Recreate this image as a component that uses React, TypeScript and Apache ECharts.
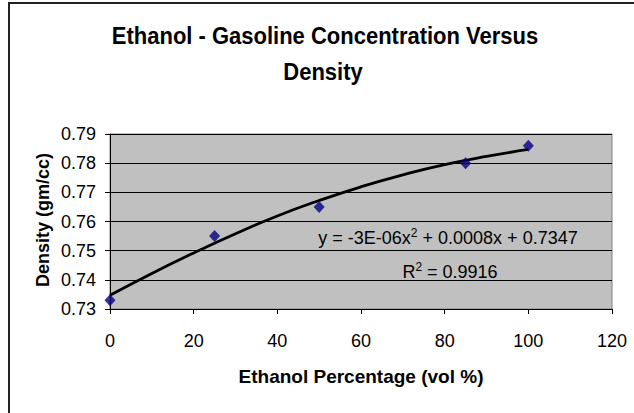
import React, { useEffect, useRef } from "react";
import * as echarts from "echarts";

// Measured data points (Ethanol %, density gm/cc)
const ethanolPct: number[] = [0, 25, 50, 85, 100];
const density: number[] = [0.733, 0.755, 0.765, 0.78, 0.786];

// Trendline (polynomial fit)
const trendX: number[] = [0, 10, 20, 30, 40, 50, 60, 70, 80, 90, 100];
const trendY: number[] = [0.7347, 0.7422, 0.7492, 0.7558, 0.7619, 0.7672, 0.7719, 0.776, 0.7795, 0.7823, 0.7847];

const titleLines: string[] = ["Ethanol - Gasoline Concentration Versus", "Density"];
const xAxisTitle = "Ethanol Percentage (vol %)";
const yAxisTitle = "Density (gm/cc)";
const equationParts: string[] = ["y = -3E-06x", "2", " + 0.0008x + 0.7347"];
const rSquaredParts: string[] = ["R", "2", " = 0.9916"];

const FONT = "'Liberation Sans', Arial, Helvetica, sans-serif";

export default function App() {
  const ref = useRef<HTMLDivElement | null>(null);

  useEffect(() => {
    if (!ref.current) return;
    const chart = echarts.init(ref.current, undefined, { renderer: "svg" });
    const rich = {
      n: { fontSize: 18, fontFamily: FONT, color: "#000", lineHeight: 22 },
      s: { fontSize: 12, fontFamily: FONT, color: "#000", lineHeight: 22, verticalAlign: "top", padding: [0, 0, 8, 0] },
    };
    chart.setOption({
      animation: false,
      backgroundColor: "#ffffff",
      grid: {
        left: 110,
        top: 134,
        width: 502,
        height: 175,
        show: true,
        backgroundColor: "#C0C0C0",
        borderColor: "#808080",
        borderWidth: 1,
      },
      xAxis: {
        type: "value",
        min: 0,
        max: 120,
        interval: 20,
        axisLine: { show: true, onZero: false, lineStyle: { color: "#000", width: 1 } },
        axisTick: { show: true, inside: false, length: 5, lineStyle: { color: "#000" } },
        axisLabel: { color: "#000", fontSize: 18, fontFamily: FONT, margin: 23 },
        splitLine: { show: false },
      },
      yAxis: {
        type: "value",
        min: 0.73,
        max: 0.79,
        interval: 0.01,
        axisLine: { show: true, onZero: false, lineStyle: { color: "#000", width: 1 } },
        axisTick: { show: true, inside: false, length: 5, lineStyle: { color: "#000" } },
        axisLabel: {
          color: "#000",
          fontSize: 18,
          fontFamily: FONT,
          margin: 14,
          formatter: (v: number) => v.toFixed(2),
        },
        splitLine: { show: true, lineStyle: { color: "#000", width: 1 } },
      },
      series: [
        {
          type: "line",
          data: trendX.map((x, i) => [x, trendY[i]]),
          smooth: true,
          showSymbol: false,
          symbol: "none",
          lineStyle: { color: "#000", width: 2.8 },
          z: 2,
          silent: true,
        },
        {
          type: "scatter",
          data: ethanolPct.map((x, i) => [x, density[i]]),
          symbol: "diamond",
          symbolSize: [11, 12],
          itemStyle: { color: "#000080" },
          z: 3,
        },
      ],
      graphic: [
        {
          type: "rect",
          shape: { x: 9, y: 3, width: 660, height: 440 },
          style: { fill: "none", stroke: "#222", lineWidth: 2 },
          silent: true,
        },
        {
          type: "text",
          x: 325,
          y: 36,
          scaleY: 1.06,
          style: {
            text: titleLines[0],
            textAlign: "center",
            textVerticalAlign: "middle",
            font: `bold 22px ${FONT}`,
            fill: "#000",
          },
        },
        {
          type: "text",
          x: 323,
          y: 72,
          scaleY: 1.06,
          style: {
            text: titleLines[1],
            textAlign: "center",
            textVerticalAlign: "middle",
            font: `bold 22px ${FONT}`,
            fill: "#000",
          },
        },
        {
          type: "text",
          x: 361,
          y: 376,
          style: {
            text: xAxisTitle,
            textAlign: "center",
            textVerticalAlign: "middle",
            font: `bold 19px ${FONT}`,
            fill: "#000",
          },
        },
        {
          type: "text",
          x: 43,
          y: 220,
          rotation: Math.PI / 2,
          style: {
            text: yAxisTitle,
            textAlign: "center",
            textVerticalAlign: "middle",
            font: `bold 18px ${FONT}`,
            fill: "#000",
          },
        },
        {
          type: "text",
          x: 448,
          y: 238,
          style: {
            text: `{n|${equationParts[0]}}{s|${equationParts[1]}}{n|${equationParts[2]}}`,
            rich,
            textAlign: "center",
            textVerticalAlign: "middle",
          },
        },
        {
          type: "text",
          x: 450,
          y: 272,
          style: {
            text: `{n|${rSquaredParts[0]}}{s|${rSquaredParts[1]}}{n|${rSquaredParts[2]}}`,
            rich,
            textAlign: "center",
            textVerticalAlign: "middle",
          },
        },
      ],
    });
    return () => chart.dispose();
  }, []);

  return (
    <div
      ref={ref}
      style={{ position: "fixed", left: 0, top: 0, width: 634, height: 413 }}
    />
  );
}
